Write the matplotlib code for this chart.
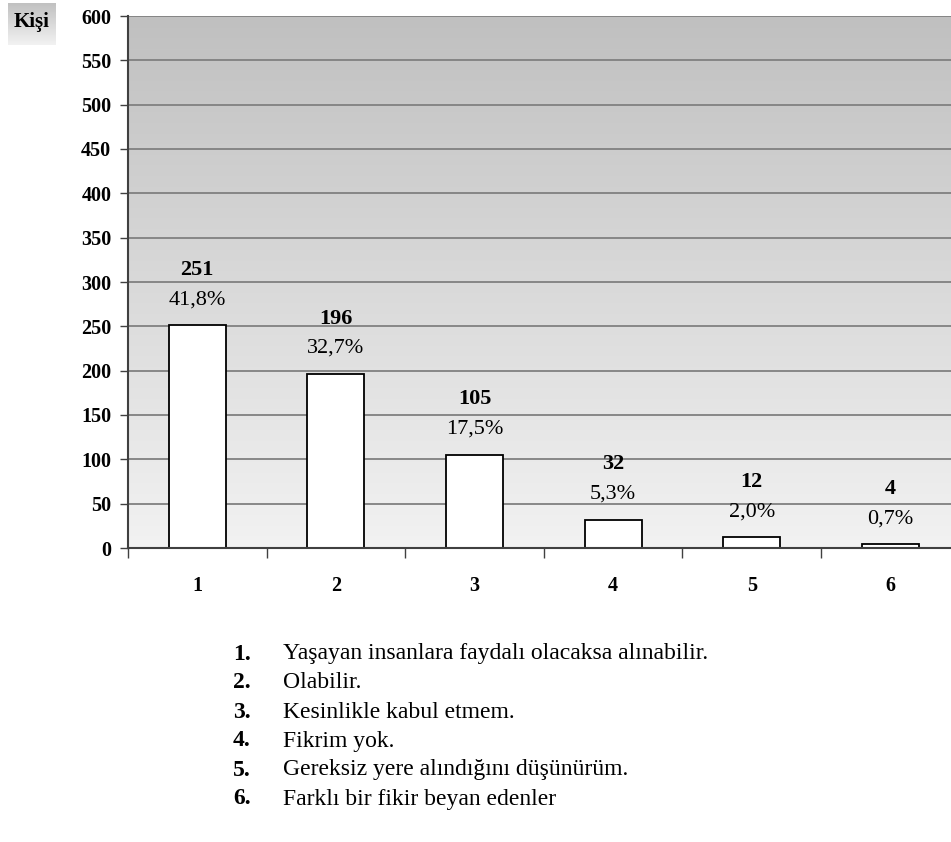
import numpy as np
import matplotlib.pyplot as plt
from matplotlib.colors import LinearSegmentedColormap

plt.rcParams['font.family'] = ['Liberation Serif', 'DejaVu Serif']

categories = ["1", "2", "3", "4", "5", "6"]
counts = [251, 196, 105, 32, 12, 4]
percents = ["41,8%", "32,7%", "17,5%", "5,3%", "2,0%", "0,7%"]
y_ticks = list(range(0, 601, 50))
descriptions = [
    "Yaşayan insanlara faydalı olacaksa alınabilir.",
    "Olabilir.",
    "Kesinlikle kabul etmem.",
    "Fikrim yok.",
    "Gereksiz yere alındığını düşünürüm.",
    "Farklı bir fikir beyan edenler",
]

W, H = 951, 842
fig = plt.figure(figsize=(W / 100, H / 100), dpi=100)
fig.patch.set_facecolor('white')

# plot area in pixel coordinates
left, right, top, bottom = 128, 951, 16, 548
ax = fig.add_axes([left / W, 1 - bottom / H, (right - left) / W, (bottom - top) / H])

slot = 138.6
x = np.arange(1, len(categories) + 1)
x_max = 0.5 + (right - left) / slot

# vertical gradient background
grad = np.linspace(0, 1, 256).reshape(-1, 1)
cmap = LinearSegmentedColormap.from_list('bg', ['#f2f2f2', '#c0c0c0'])
ax.imshow(grad, aspect='auto', cmap=cmap, origin='lower',
          extent=[0.5, 7.0, 0, 600], zorder=0)

for yv in y_ticks[1:]:
    ax.axhline(yv, color='#808080', lw=1.3, zorder=1)

ax.bar(x, counts, width=0.41, color='white', edgecolor='black', lw=1.3, zorder=3)

for xi, c, p in zip(x, counts, percents):
    ax.annotate(str(c), (xi, c), xytext=(0, 40), textcoords='offset points',
                ha='center', va='center', fontsize=16, fontweight='bold', zorder=4)
    ax.annotate(p, (xi, c), xytext=(0, 18.5), textcoords='offset points',
                ha='center', va='center', fontsize=16, zorder=4)

ax.set_yticks(y_ticks)
ax.set_yticklabels([str(v) for v in y_ticks], fontsize=14.5, fontweight='bold')
ax.set_xticks(x)
ax.set_xticklabels(categories, fontsize=14.5, fontweight='bold')
ax.set_xticks(np.arange(0.5, 6.0, 1.0), minor=True)
ax.tick_params(axis='x', which='major', length=0, pad=20)
ax.tick_params(axis='x', which='minor', length=7, width=1, color='#404040')
ax.tick_params(axis='y', length=6, width=1, color='#404040', pad=6)
ax.set_xlim(0.5, x_max)
ax.set_ylim(0, 600)

for s in ['top', 'right']:
    ax.spines[s].set_visible(False)
for s in ['left', 'bottom']:
    ax.spines[s].set_color('#404040')
    ax.spines[s].set_linewidth(1.5)
    ax.spines[s].set_zorder(5)

# axis title in a small shaded box
kax = fig.add_axes([8 / W, 1 - 45 / H, 48 / W, 42 / H])
kax.imshow(grad, aspect='auto', cmap=cmap, origin='lower', extent=[0, 1, 0, 1])
kax.set_xlim(0, 1)
kax.set_ylim(0, 1)
kax.axis('off')
kax.text(0.5, 0.55, "Kişi", ha='center', va='center', fontsize=15, fontweight='bold')

# category legend
for i, d in enumerate(descriptions):
    yp = 654 + i * 29
    fig.text(233 / W, 1 - yp / H, f"{i + 1}.", ha='left', va='center',
             fontsize=17, fontweight='bold')
    fig.text(283 / W, 1 - yp / H, d, ha='left', va='center', fontsize=17)

fig.savefig('out.png', dpi=100)
